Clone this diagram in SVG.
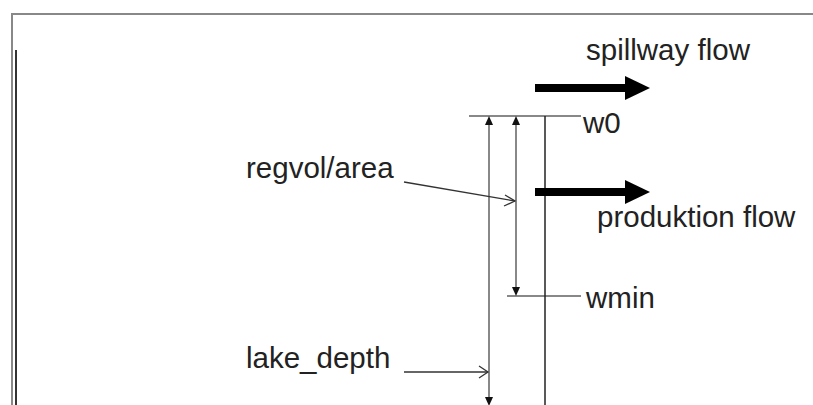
<svg xmlns="http://www.w3.org/2000/svg" width="813" height="405" viewBox="0 0 813 405">
<style>
text{font-family:"Liberation Sans",Arial,sans-serif;font-size:29.5px;fill:#222}
.g{stroke:#888;stroke-width:2;fill:none}
.k{stroke:#222;stroke-width:1.5;fill:none}
.thick{stroke:#000;stroke-width:8;fill:none}
.head{fill:#000}
.tri{fill:#111}
.lead{stroke:#333;stroke-width:1.3;fill:none}
</style>
<g id="frame">
<path d="M12,405 V14 H813" stroke="#888" stroke-width="2" fill="none"/>
<path d="M16,50 V405" stroke="#333" stroke-width="2" fill="none"/>
</g>
<g id="w0"><line class="g" x1="469" y1="116" x2="581" y2="116"/><text x="583" y="133">w0</text></g>
<g id="wmin"><line class="g" x1="507" y1="296" x2="581" y2="296"/><text x="586" y="308">wmin</text></g>
<g id="dam"><line class="k" x1="545" y1="116" x2="545" y2="405"/></g>
<g id="spillway"><text x="586" y="60">spillway flow</text></g>
<g id="produktion"><text x="597" y="227">produktion flow</text></g>
<g id="regvol"><text x="246" y="178">regvol/area</text></g>
<g id="lake"><text x="246" y="368">lake_depth</text></g>
<g id="connectors">
<line class="g" x1="489" y1="120" x2="489" y2="400"/>
<path class="tri" d="M489,116 L485,125 L493,125 z"/>
<path class="tri" d="M489,406 L485,397 L493,397 z"/>
<line class="g" x1="516" y1="120" x2="516" y2="292"/>
<path class="tri" d="M516,116 L512,125 L520,125 z"/>
<path class="tri" d="M516,296 L512,287 L520,287 z"/>
<line class="thick" x1="535" y1="88" x2="627" y2="88"/>
<path class="head" d="M625,76 L650,88 L625,100 z"/>
<line class="thick" x1="535" y1="192" x2="627" y2="192"/>
<path class="head" d="M625,180 L650,192 L625,204 z"/>
<line class="lead" x1="404" y1="182" x2="515" y2="201"/>
<path class="lead" d="M505,195 L515,201 L504,206"/>
<line class="lead" x1="404" y1="372" x2="488" y2="372"/>
<path class="lead" d="M479,366 L488,372 L479,378"/>
</g>
</svg>
